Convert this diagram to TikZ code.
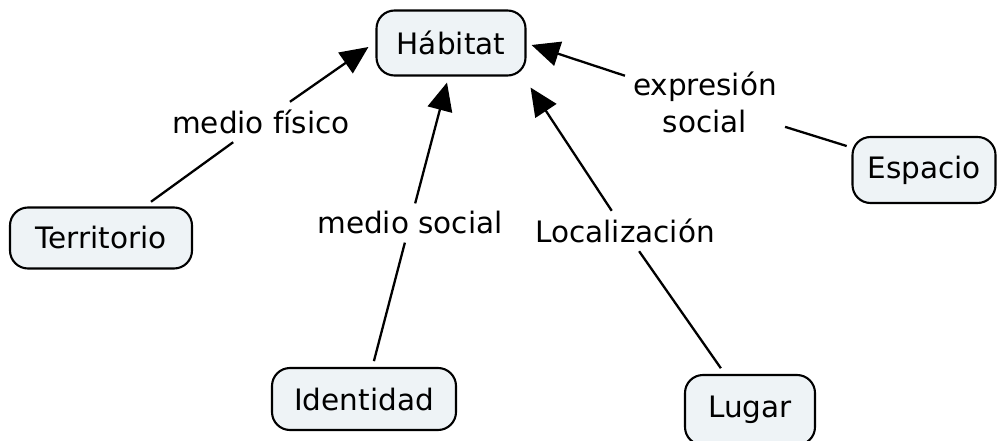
\documentclass[tikz,border=0pt]{standalone}
\usepackage{fontspec}
\setmainfont{DejaVu Sans}
\usetikzlibrary{arrows.meta,calc}
\definecolor{nodefill}{RGB}{238,243,246}
\begin{document}
\begin{tikzpicture}[x=1pt,y=-1pt,
  concept/.style={draw=black, line width=2.1pt, fill=nodefill, rounded corners=18pt, inner sep=0pt, font=\fontsize{29.5}{35}\selectfont},
  lbl/.style={inner sep=8pt, font=\fontsize{29.5}{37}\selectfont, align=center},
  link/.style={line width=2.3pt, draw=black},
  arr/.style={line width=2.3pt, draw=black, -{Triangle[length=28pt,width=25pt]}}
]
\clip (0,0) rectangle (998,441);
\useasboundingbox (0,0) rectangle (998,441);
\fill[white] (0,0) rectangle (998,441);

\node[concept, minimum width=149pt, minimum height=65pt] (hab) at (451,43) {Hábitat};
\node[concept, minimum width=182pt, minimum height=61pt] (terr) at (101,238) {Territorio};
\node[concept, minimum width=143pt, minimum height=66pt] (esp) at (924,170) {Espacio};
\node[concept, minimum width=184pt, minimum height=62pt] (ident) at (364,399) {Identidad};
\node[concept, minimum width=130pt, minimum height=70pt] (lugar) at (750,410) {Lugar};

\node[lbl] (l1) at (261,122) {medio físico};
\node[lbl] (l2) at (410,223) {medio social};
\node[lbl] (l3) at (625,231) {Localización};
\node[lbl] (l4) at (705,102) {expresión\\social};

\coordinate (t1) at ($(hab.west)+(-7,4)$);
\coordinate (t2) at ($(hab.south)+(-4,6)$);
\coordinate (t3) at ($(hab.south east)+(4,11)$);
\coordinate (t4) at ($(hab.east)+(5,2)$);

\draw[link, shorten <=8pt] (terr) -- (l1);
\draw[arr] (l1) -- (t1);
\draw[link, shorten <=6pt] (ident) -- (l2);
\draw[arr] (l2) -- (t2);
\draw[link, shorten <=7pt] (lugar) -- (l3);
\draw[arr] (l3) -- (t3);
\draw[link, shorten <=5pt] (esp) -- (l4);
\draw[arr] (l4) -- (t4);
\end{tikzpicture}
\end{document}
